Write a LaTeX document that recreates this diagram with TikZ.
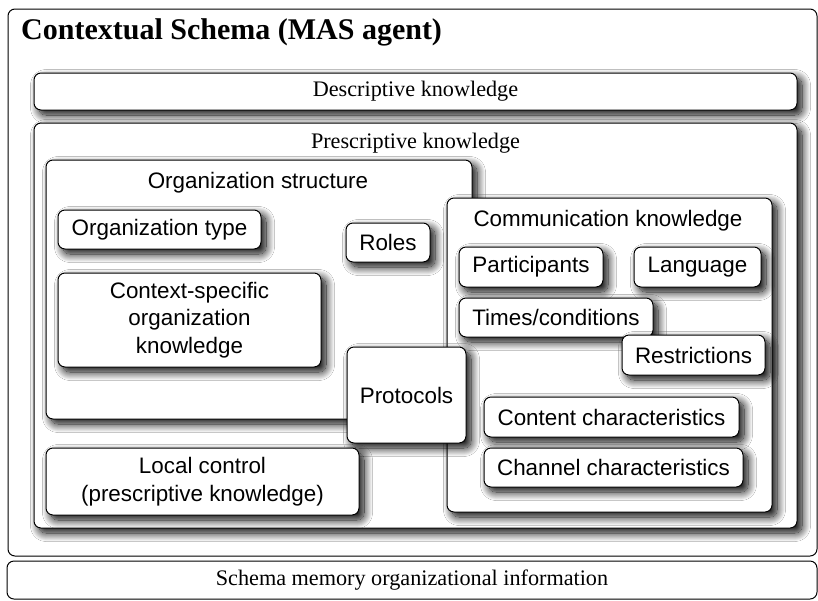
\documentclass[tikz,border=0pt]{standalone}
\usepackage{fontspec}
\setmainfont{Liberation Serif}
\setsansfont{Liberation Sans}
\usetikzlibrary{shadows.blur}
\begin{document}
\begin{tikzpicture}[x=1pt,y=-1pt,
  plainbox/.style={draw=black, line width=1pt, fill=white, rounded corners=7pt, inner sep=0pt},
  box/.style={plainbox, blur shadow={shadow xshift=5pt, shadow yshift=-5pt, shadow blur radius=8.5pt, shadow opacity=100, shadow blur steps=18}},
  sanstxt/.style={font=\sffamily\fontsize{22.4}{27.5}\selectfont, align=center},
  seriftxt/.style={font=\rmfamily\fontsize{22.2}{27}\selectfont},
  lbl/.style={inner sep=0pt}
]
\useasboundingbox (0,0) rectangle (818,600);
% outer containers
\node[plainbox, minimum width=809pt, minimum height=547pt] (outer) at (412.5,282.5) {};
\node[lbl, anchor=base west, font=\rmfamily\bfseries\fontsize{30}{34}\selectfont] (title) at (21,39) {Contextual Schema (MAS agent)};
\node[plainbox, minimum width=810pt, minimum height=38pt, seriftxt] (memory) at (412,580) {Schema memory organizational information};
\node[box, minimum width=763pt, minimum height=37pt, seriftxt] (desc) at (415.5,91.5) {Descriptive knowledge};
\node[box, minimum width=763pt, minimum height=405pt] (presc) at (415.5,325.5) {};
\node[lbl, seriftxt, anchor=base] (prescT) at (415.5,148) {Prescriptive knowledge};
% organization structure
\node[box, minimum width=426pt, minimum height=259pt] (org) at (259,289.5) {};
\node[lbl, sanstxt, anchor=base] (orgT) at (258,188) {Organization structure};
\node[box, minimum width=203pt, minimum height=39pt, sanstxt] (orgtype) at (159.5,229.5) {Organization type};
\node[box, minimum width=84pt, minimum height=39pt, sanstxt] (roles) at (388,242.5) {Roles};
\node[box, minimum width=263pt, minimum height=94pt, sanstxt] (ctx) at (189.5,320) {Context-specific\\organization\\knowledge};
% communication knowledge
\node[box, minimum width=325pt, minimum height=314pt] (comm) at (609.5,355) {};
\node[lbl, sanstxt, anchor=base] (commT) at (608,226) {Communication knowledge};
\node[box, minimum width=144pt, minimum height=40pt, sanstxt] (part) at (531,267) {Participants};
\node[box, minimum width=127pt, minimum height=40pt, sanstxt] (lang) at (697.5,267) {Language};
\node[box, minimum width=194pt, minimum height=39pt, sanstxt] (times) at (556,317.5) {Times/conditions};
\node[box, minimum width=143pt, minimum height=40pt, sanstxt] (restr) at (693.5,355) {Restrictions};
\node[box, minimum width=255pt, minimum height=40pt, sanstxt] (content) at (611.5,417) {Content characteristics};
\node[box, minimum width=259pt, minimum height=39pt, sanstxt] (channel) at (613.5,467.5) {Channel characteristics};
% protocols and local control
\node[box, minimum width=119pt, minimum height=96pt, sanstxt] (protocols) at (406.5,395) {Protocols};
\node[box, minimum width=313pt, minimum height=67pt, sanstxt] (local) at (202.5,481.5) {Local control\\(prescriptive knowledge)};
\end{tikzpicture}
\end{document}
